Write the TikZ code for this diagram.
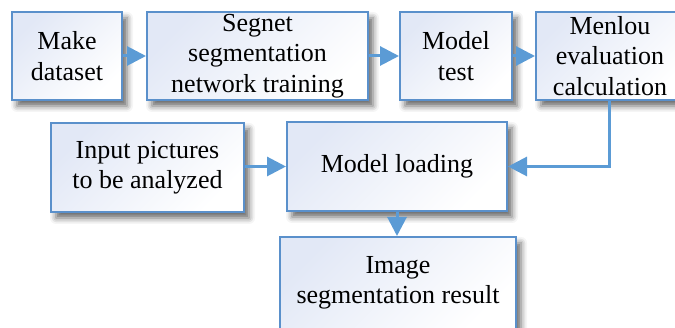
\documentclass[tikz,border=0pt]{standalone}
\usepackage{fontspec}
\setmainfont{Liberation Serif}
\usetikzlibrary{arrows.meta,shadows.blur}
\definecolor{boxline}{HTML}{5A90CB}
\definecolor{arrowblue}{HTML}{5B9BD5}
\definecolor{boxtint}{HTML}{E2E8F6}
\begin{document}
\begin{tikzpicture}[x=1pt,y=1pt,
  stepbox/.style={draw=boxline, line width=2pt, top color=boxtint, bottom color=white, shading angle=45,
    inner sep=0pt, align=center, font=\fontsize{26}{30.5}\selectfont,
    blur shadow={shadow xshift=5pt, shadow yshift=-6pt, shadow blur radius=6pt, shadow opacity=60}},
  flow/.style={draw=arrowblue, line width=3pt, -{Triangle[length=19pt,width=19pt]}}]
\useasboundingbox (0,0) rectangle (675,327);
\clip (0,0) rectangle (675,327);
\node[stepbox, minimum width=110pt, minimum height=88pt] (md) at (67,271) {Make\\dataset};
\node[stepbox, minimum width=221pt, minimum height=88pt] (seg) at (257.5,271) {Segnet\\segmentation\\network training};
\node[stepbox, minimum width=112pt, minimum height=88pt] (mt) at (456,271) {Model\\test};
\node[stepbox, minimum width=148pt, minimum height=88pt] (me) at (610,271) {Menlou\\evaluation\\calculation};
\node[stepbox, minimum width=193pt, minimum height=89pt] (in) at (147.5,159.5) {Input pictures\\to be analyzed};
\node[stepbox, minimum width=220pt, minimum height=89pt] (ml) at (397,160.5) {Model loading};
\node[stepbox, minimum width=236pt, minimum height=92pt] (res) at (398,44) {Image\\segmentation result};
\draw[flow] (md.east) -- (seg.west);
\draw[flow] (seg.east) -- (mt.west);
\draw[flow] (mt.east) -- (me.west);
\draw[flow] (in.east |- ml.west) -- (ml.west);
\draw[flow] (me.south -| 609,0) |- (ml.east);
\draw[flow] (ml.south) -- (ml.south |- res.north);
\end{tikzpicture}
\end{document}
